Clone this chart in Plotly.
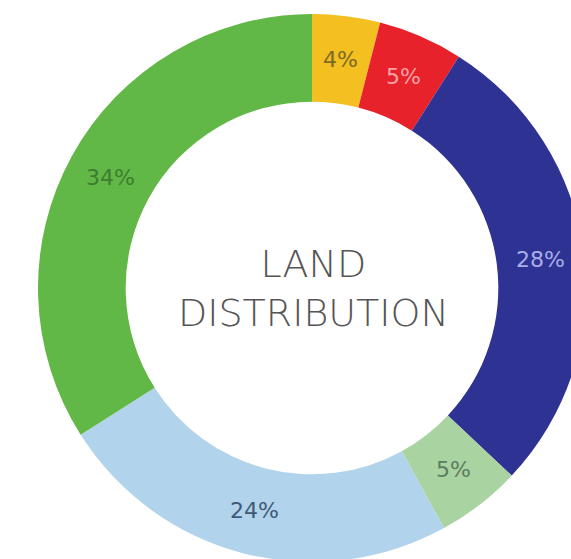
import math
import plotly.graph_objects as go

# Data (clockwise from 12 o'clock)
labels = ["Yellow", "Red", "Dark blue", "Light green", "Light blue", "Green"]
values = [4, 5, 28, 5, 24, 34]
slice_colors = ["#F3BF21", "#E8222A", "#2E3292", "#A9D3A1", "#B2D3EC", "#62B846"]
text_colors = ["#7A6A25", "#F6A3A6", "#A9AEEA", "#5B7D5E", "#3E5A74", "#3C7D30"]
center_title = "LAND<br>DISTRIBUTION"

# Figure / pie geometry (pixels)
W, H = 624, 576
CX, CY, R_OUT, HOLE = 312, 288, 274, 0.68
R_LABEL = R_OUT * (1 + HOLE) / 2

fig = go.Figure(
    go.Pie(
        labels=labels,
        values=values,
        sort=False,
        direction="clockwise",
        rotation=0,
        hole=HOLE,
        marker=dict(colors=slice_colors, line=dict(width=0)),
        textinfo="none",
        hoverinfo="label+value",
        showlegend=False,
        domain=dict(x=[(CX - R_OUT) / W, (CX + R_OUT) / W],
                    y=[1 - (CY + R_OUT) / H, 1 - (CY - R_OUT) / H]),
    )
)

# Percentage labels placed at the middle of each slice (derived from the data)
total = sum(values)
cum = 0
for v, col in zip(values, text_colors):
    ang = 2 * math.pi * (cum + v / 2) / total
    cum += v
    px = CX + R_LABEL * math.sin(ang)
    py = CY - R_LABEL * math.cos(ang)
    fig.add_annotation(x=px / W, y=1 - py / H, xref="paper", yref="paper",
                       xanchor="center", yanchor="middle",
                       text=f"{v}%", showarrow=False,
                       font=dict(family="DejaVu Sans", size=22, color=col, weight=400))

fig.add_annotation(x=313 / W, y=1 - 288 / H, xref="paper", yref="paper",
                   xanchor="center", yanchor="middle", text=center_title,
                   showarrow=False, align="center",
                   font=dict(family="DejaVu Sans", size=38, color="#555555", weight=200))

fig.update_layout(
    width=W, height=H,
    margin=dict(l=0, r=0, t=0, b=0),
    paper_bgcolor="white",
    plot_bgcolor="white",
)

fig.write_html(
    "out.html",
    config={"displayModeBar": False},
    post_script="document.body.style.margin='0';document.body.style.overflow='hidden';"
                "document.documentElement.style.overflow='hidden';",
)
